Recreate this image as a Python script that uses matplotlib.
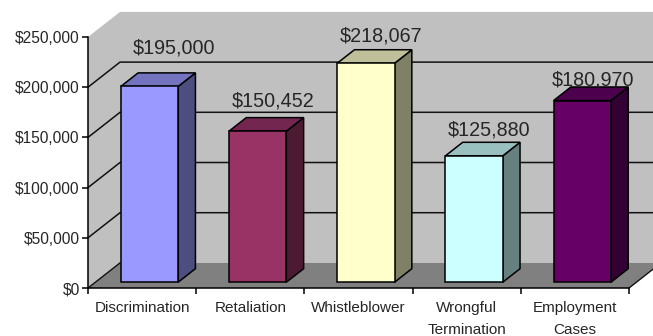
from matplotlib import pyplot as plt
from matplotlib.patches import Polygon
from matplotlib.ticker import FuncFormatter

CATEGORIES = ["Discrimination", "Retaliation", "Whistleblower", "Wrongful\nTermination", "Employment\nCases"]
VALUES = [195000, 150452, 218067, 125880, 180970]
Y_TICKS = [0, 50000, 100000, 150000, 200000, 250000]

# COLORS
FRONT = ["#9999FF", "#993366", "#FFFFCC", "#CCFFFF", "#660066"]
SIDE = ["#4D4D80", "#4D1A33", "#808066", "#668080", "#330033"]
TOP = ["#7373BF", "#732650", "#BFBF99", "#99BFBF", "#4D004D"]
WALL = "#C0C0C0"
FLOOR = "#808080"
INK = "#262626"

# oblique projection, in data units per full depth of the chart box
DEPTH_X = 0.296
DEPTH_Y = 25000
BAR_WIDTH = 0.53
BAR_NEAR = 0.23
BAR_FAR = 0.77

# label nudges from the bar's back top edge, in points
LABEL_NUDGE = [(5, 11), (-1.5, 5.4), (-1.8, 3.4), (-1.4, 2), (-4.7, -1.7)]


def pt(x, y, depth):
    return (x + depth * DEPTH_X, y + depth * DEPTH_Y)


def draw_box(ax):
    top = Y_TICKS[-1]
    n = len(CATEGORIES)
    ax.add_patch(Polygon([pt(0, 0, 0), pt(0, top, 0), pt(0, top, 1), pt(n, top, 1), pt(n, 0, 1), pt(0, 0, 1)],
                         facecolor=WALL, edgecolor="none", clip_on=False, zorder=1))
    ax.add_patch(Polygon([pt(0, 0, 0), pt(0, 0, 1), pt(n, 0, 1), pt(n, 0, 0)],
                         facecolor=FLOOR, edgecolor="none", clip_on=False, zorder=1))
    for tick in Y_TICKS[1:-1]:
        xs, ys = zip(pt(0, tick, 0), pt(0, tick, 1), pt(n, tick, 1))
        ax.plot(xs, ys, color="#111111", linewidth=1.1, clip_on=False, zorder=2)
    xs, ys = zip(pt(0, 0, 0), pt(0, 0, 1))
    ax.plot(xs, ys, color="#111111", linewidth=1.0, clip_on=False, zorder=2)
    xs, ys = zip(pt(n, 0, 0), pt(n, 0, 1))
    ax.plot(xs, ys, color="#111111", linewidth=1.0, clip_on=False, zorder=2)


def draw_bar(ax, idx, value):
    x0 = idx + 0.5 - BAR_WIDTH / 2
    x1 = idx + 0.5 + BAR_WIDTH / 2
    style = {"edgecolor": "black", "linewidth": 1.1, "joinstyle": "miter", "clip_on": False, "zorder": 3}
    ax.add_patch(Polygon([pt(x1, 0, BAR_NEAR), pt(x1, 0, BAR_FAR), pt(x1, value, BAR_FAR), pt(x1, value, BAR_NEAR)],
                         facecolor=SIDE[idx], **style))
    ax.add_patch(Polygon([pt(x0, value, BAR_NEAR), pt(x0, value, BAR_FAR), pt(x1, value, BAR_FAR), pt(x1, value, BAR_NEAR)],
                         facecolor=TOP[idx], **style))
    ax.add_patch(Polygon([pt(x0, 0, BAR_NEAR), pt(x0, value, BAR_NEAR), pt(x1, value, BAR_NEAR), pt(x1, 0, BAR_NEAR)],
                         facecolor=FRONT[idx], **style))
    ax.annotate(f"${value:,}", xy=pt(idx + 0.5, value, BAR_FAR), xytext=LABEL_NUDGE[idx],
                textcoords="offset points", ha="center", va="bottom",
                fontsize=14.2, color=INK, annotation_clip=False, zorder=4)


def main():
    plt.rcParams["font.family"] = ["Liberation Sans", "DejaVu Sans"]
    fig = plt.figure(figsize=(6.53, 3.36), dpi=100, facecolor="white")
    ax = fig.add_axes([88 / 653, 48 / 336, 541 / 653, 251 / 336])
    ax.set_xlim(0, len(CATEGORIES))
    ax.set_ylim(0, Y_TICKS[-1])
    ax.patch.set_visible(False)

    draw_box(ax)
    for idx, value in enumerate(VALUES):
        draw_bar(ax, idx, value)

    for side in ["top", "right"]:
        ax.spines[side].set_visible(False)
    for side in ["left", "bottom"]:
        ax.spines[side].set_linewidth(1.1)
        ax.spines[side].set_zorder(5)

    ax.set_yticks(Y_TICKS)
    ax.yaxis.set_major_formatter(FuncFormatter(lambda v, _: f"${int(v):,}"))
    ax.tick_params(axis="y", length=4, width=1.1, pad=2, labelsize=11.2, labelcolor=INK)

    ax.set_xticks(range(len(CATEGORIES) + 1))
    ax.set_xticklabels([])
    ax.set_xticks([i + 0.5 for i in range(len(CATEGORIES))], labels=CATEGORIES, minor=True)
    ax.tick_params(axis="x", which="major", length=4, width=1.1)
    ax.tick_params(axis="x", which="minor", length=0, pad=9.5, labelsize=11, labelcolor=INK)
    for label in ax.get_xticklabels(minor=True):
        label.set_linespacing(1.7)

    fig.savefig("out.png", dpi=100)


if __name__ == "__main__":
    main()
